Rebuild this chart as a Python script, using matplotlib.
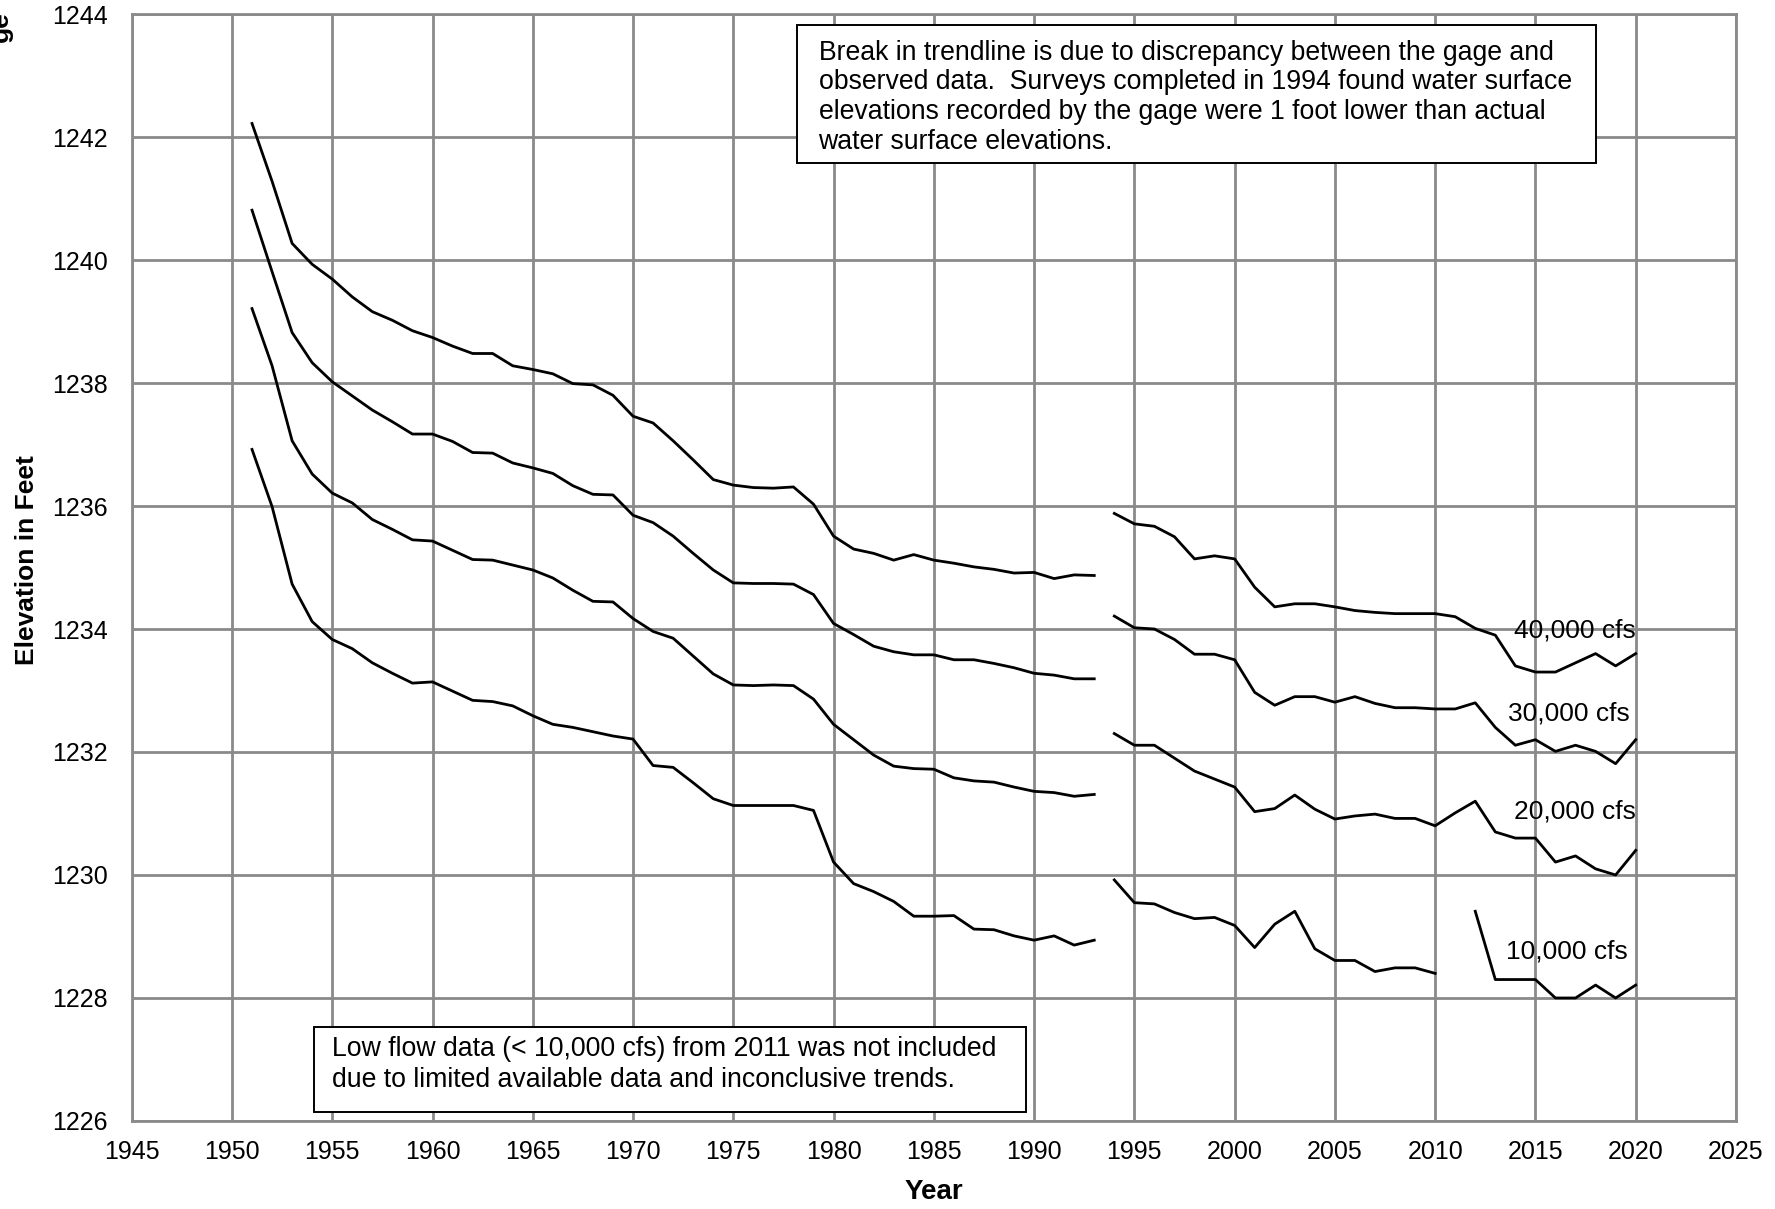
import numpy as np
import matplotlib
matplotlib.use("Agg")
import matplotlib.pyplot as plt
from matplotlib.patches import Rectangle

plt.rcParams["font.family"] = ["Liberation Sans", "DejaVu Sans"]

# ---- data ----
years_pre = np.arange(1951, 1994)
years_post = np.arange(1994, 2021)

q40_pre = [1242.22, 1241.28, 1240.27, 1239.93, 1239.69, 1239.40, 1239.16, 1239.02, 1238.85, 1238.74,
           1238.60, 1238.48, 1238.48, 1238.28, 1238.22, 1238.15, 1237.99, 1237.97, 1237.80, 1237.46,
           1237.35, 1237.06, 1236.75, 1236.43, 1236.34, 1236.30, 1236.29, 1236.31, 1236.03, 1235.51,
           1235.30, 1235.23, 1235.12, 1235.21, 1235.12, 1235.07, 1235.01, 1234.97, 1234.91, 1234.92,
           1234.82, 1234.88, 1234.87]
q30_pre = [1240.81, 1239.81, 1238.82, 1238.33, 1238.02, 1237.79, 1237.56, 1237.37, 1237.17, 1237.17,
           1237.05, 1236.87, 1236.86, 1236.70, 1236.62, 1236.53, 1236.33, 1236.19, 1236.18, 1235.85,
           1235.73, 1235.51, 1235.23, 1234.96, 1234.75, 1234.74, 1234.74, 1234.73, 1234.56, 1234.09,
           1233.91, 1233.72, 1233.63, 1233.58, 1233.58, 1233.50, 1233.50, 1233.44, 1233.37, 1233.28,
           1233.25, 1233.19, 1233.19]
q20_pre = [1239.21, 1238.28, 1237.06, 1236.52, 1236.21, 1236.05, 1235.78, 1235.62, 1235.45, 1235.43,
           1235.28, 1235.13, 1235.12, 1235.04, 1234.96, 1234.83, 1234.63, 1234.45, 1234.44, 1234.17,
           1233.96, 1233.85, 1233.56, 1233.27, 1233.09, 1233.08, 1233.09, 1233.08, 1232.86, 1232.45,
           1232.20, 1231.95, 1231.77, 1231.73, 1231.72, 1231.58, 1231.53, 1231.51, 1231.43, 1231.36,
           1231.34, 1231.28, 1231.31]
q10_pre = [1236.92, 1235.99, 1234.73, 1234.12, 1233.83, 1233.68, 1233.45, 1233.28, 1233.12, 1233.14,
           1232.99, 1232.84, 1232.82, 1232.75, 1232.59, 1232.45, 1232.40, 1232.33, 1232.26, 1232.21,
           1231.78, 1231.75, 1231.50, 1231.24, 1231.13, 1231.13, 1231.13, 1231.13, 1231.05, 1230.21,
           1229.86, 1229.73, 1229.57, 1229.33, 1229.33, 1229.34, 1229.12, 1229.11, 1229.01, 1228.94,
           1229.01, 1228.86, 1228.94]

q40_post = [1235.88, 1235.71, 1235.67, 1235.50, 1235.14, 1235.19, 1235.14, 1234.68, 1234.36, 1234.41,
            1234.41, 1234.36, 1234.30, 1234.27, 1234.25, 1234.25, 1234.25, 1234.20, 1234.01, 1233.90,
            1233.40, 1233.30, 1233.30, 1233.45, 1233.60, 1233.40, 1233.60]
q30_post = [1234.21, 1234.02, 1234.00, 1233.83, 1233.59, 1233.59, 1233.50, 1232.97, 1232.76, 1232.90,
            1232.90, 1232.81, 1232.90, 1232.79, 1232.72, 1232.72, 1232.70, 1232.70, 1232.80, 1232.40,
            1232.11, 1232.20, 1232.01, 1232.11, 1232.01, 1231.81, 1232.20]
q20_post = [1232.30, 1232.11, 1232.11, 1231.90, 1231.69, 1231.56, 1231.43, 1231.03, 1231.08, 1231.30,
            1231.07, 1230.91, 1230.96, 1230.99, 1230.92, 1230.92, 1230.80, 1231.01, 1231.20, 1230.70,
            1230.60, 1230.60, 1230.21, 1230.31, 1230.10, 1230.00, 1230.40]
q10_post = [1229.92, 1229.55, 1229.53, 1229.39, 1229.29, 1229.31, 1229.18, 1228.82, 1229.20, 1229.41,
            1228.80, 1228.61, 1228.61, 1228.43, 1228.49, 1228.49, 1228.40, np.nan, 1229.41, 1228.30,
            1228.30, 1228.30, 1228.00, 1228.00, 1228.21, 1228.00, 1228.21]

flow_labels = ["40,000 cfs", "30,000 cfs", "20,000 cfs", "10,000 cfs"]

x_ticks = np.arange(1945, 2026, 5)
y_ticks = np.arange(1226, 1245, 2)

GRID = "#8a8a8a"

fig = plt.figure(figsize=(17.75, 12.09), dpi=100)
ax = fig.add_axes([0.0742, 0.0728, 0.9038, 0.9156])
ax.set_xlim(1945, 2025)
ax.set_ylim(1226, 1244)
ax.set_xticks(x_ticks)
ax.set_yticks(y_ticks)
ax.grid(True, color=GRID, linewidth=2.0, zorder=0)
for sp in ax.spines.values():
    sp.set_color(GRID)
    sp.set_linewidth(2.0)
ax.tick_params(length=0, labelsize=18, colors="black")
ax.tick_params(axis="y", pad=17)
ax.tick_params(axis="x", pad=14)

for pre, post in [(q40_pre, q40_post), (q30_pre, q30_post), (q20_pre, q20_post), (q10_pre, q10_post)]:
    ax.plot(years_pre, pre, color="black", lw=2.0, zorder=3)
    ax.plot(years_post, post, color="black", lw=2.0, zorder=3)

# series labels
label_pos = [(2020.0, 1233.98), (2019.7, 1232.63), (2020.0, 1231.04), (2019.6, 1228.76)]
for (lx, ly), txt in zip(label_pos, flow_labels):
    ax.text(lx, ly, txt, ha="right", va="center", fontsize=19, zorder=4)

# note boxes
ax.add_patch(Rectangle((1978.2, 1241.57), 39.8, 2.25, facecolor="white", edgecolor="black",
                       lw=1.4, zorder=5))
note1 = ["Break in trendline is due to discrepancy between the gage and",
         "observed data.  Surveys completed in 1994 found water surface",
         "elevations recorded by the gage were 1 foot lower than actual",
         "water surface elevations."]
for i, line in enumerate(note1):
    ax.text(1979.25, 1243.26 - i * 0.487, line, ha="left", va="baseline", fontsize=19.2, zorder=6)

ax.add_patch(Rectangle((1954.07, 1226.15), 35.55, 1.38, facecolor="white", edgecolor="black",
                       lw=1.4, zorder=5))
note2 = ["Low flow data (< 10,000 cfs) from 2011 was not included",
         "due to limited available data and inconclusive trends."]
for i, line in enumerate(note2):
    ax.text(1954.99, 1227.06 - i * 0.51, line, ha="left", va="baseline", fontsize=19.2, zorder=6)

fig.text(26.7 / 1775, 1 - 560 / 1209, "Elevation in Feet", rotation=90, ha="center",
         va="center", fontsize=19, fontweight="bold")
fig.text(934 / 1775, 1 - 1192 / 1209, "Year", ha="center", va="center", fontsize=20,
         fontweight="bold")
# clipped remnant of a rotated label in the top-left corner
fig.text(1 / 1775, 1 - 42 / 1209, "ge", rotation=90, ha="center", va="bottom", fontsize=19,
         fontweight="bold")

fig.savefig("out.png", dpi=100)
